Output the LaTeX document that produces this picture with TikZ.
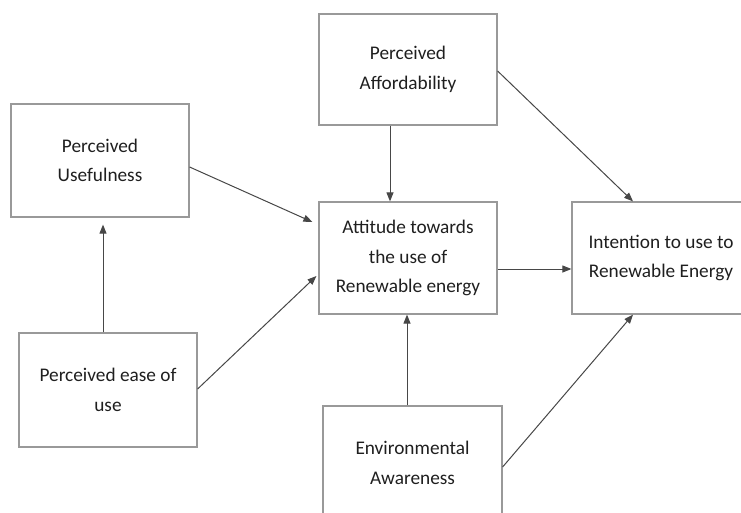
\documentclass[tikz,border=0pt]{standalone}
\usepackage{fontspec}
\setmainfont{Carlito}
\usetikzlibrary{arrows.meta}
\begin{document}
\begin{tikzpicture}[
    x=1pt,y=-1pt,
    box/.style={draw=black!40,line width=1.2pt,align=center,text=black!88,
      inner sep=0pt,font=\fontsize{19.3}{29.5}\selectfont},
    link/.style={-{Triangle[length=9pt,width=7pt]},draw=black!72,line width=1pt},
  ]
    \useasboundingbox (0,0) rectangle (741,513);
    % boxes sized in pixels of the 741 x 513 picture; the two at the edges run past the frame
    \node[box,minimum width=178,minimum height=111] (afford) at (408,69.5) {Perceived\\Affordability};
    \node[box,minimum width=178,minimum height=113] (useful) at (100,160.5) {Perceived\\Usefulness};
    \node[box,minimum width=178,minimum height=112] (attitude) at (408,258) {Attitude towards\\the use of\\Renewable energy};
    \node[box,minimum width=178,minimum height=112] (intent) at (661,258) {Intention to use to\\Renewable Energy};
    \node[box,minimum width=178,minimum height=114] (ease) at (108,390) {Perceived ease of\\use};
    \node[box,minimum width=179,minimum height=114] (aware) at (412.5,463) {Environmental\\Awareness};
    \draw[link] ([yshift=-6.5]useful.east) -- ([shift={(-6,-36)}]attitude.west);
    \draw[link] ([xshift=-18]afford.south) -- ([xshift=-18]attitude.north);
    \draw[link] ([yshift=-1.5]afford.east) -- ([xshift=-28]intent.north);
    \draw[link] ([yshift=-11]attitude.east) -- ([yshift=-11]intent.west);
    \draw[link,shorten >=7pt] ([xshift=-5]ease.north) -- ([xshift=-5]ease.north |- useful.south);
    \draw[link] ([yshift=1]ease.east) -- ([shift={(-2,18)}]attitude.west);
    \draw[link] ([xshift=-5.5]aware.north) -- ([xshift=-5.5]aware.north |- attitude.south);
    \draw[link] ([yshift=-4]aware.east) -- ([xshift=-28]intent.south);
  \end{tikzpicture}
\end{document}
